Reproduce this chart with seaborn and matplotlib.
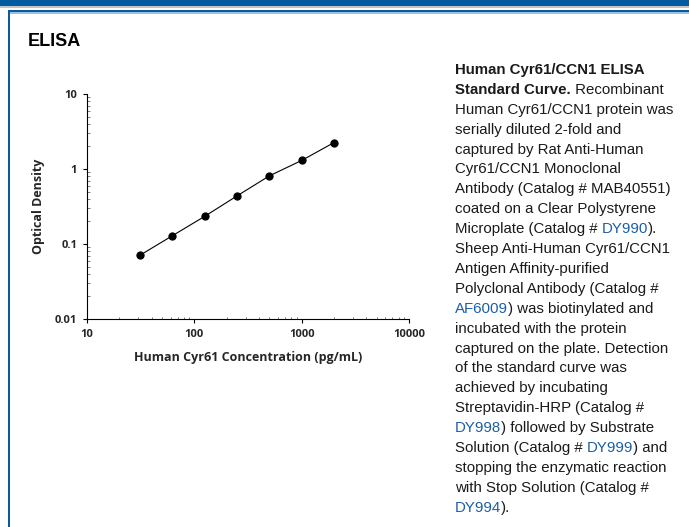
import matplotlib
matplotlib.use("Agg")
import matplotlib.pyplot as plt
from matplotlib.patches import Rectangle
from matplotlib.ticker import LogLocator, NullFormatter, FixedFormatter, FixedLocator
import seaborn as sns
import pandas as pd

# ---- data ----
concentration = [31.25, 62.5, 125, 250, 500, 1000, 2000]
optical_density = [0.071, 0.129, 0.234, 0.438, 0.81, 1.30, 2.25]
x_ticks = [10, 100, 1000, 10000]
x_tick_labels = ["10", "100", "1000", "10000"]
y_ticks = [0.01, 0.1, 1, 10]
y_tick_labels = ["0.01", "0.1", "1", "10"]

title = "ELISA"
x_label = "Human Cyr61 Concentration (pg/mL)"
y_label = "Optical Density"

BLACK = "#1a1a1a"
LINK = "#1c5fa6"
caption_lines = [
    [("Human Cyr61/CCN1 ELISA", "bold", BLACK)],
    [("Standard Curve.", "bold", BLACK), (" Recombinant", "normal", BLACK)],
    [("Human Cyr61/CCN1 protein was", "normal", BLACK)],
    [("serially diluted 2-fold and", "normal", BLACK)],
    [("captured by Rat Anti-Human", "normal", BLACK)],
    [("Cyr61/CCN1 Monoclonal", "normal", BLACK)],
    [("Antibody (Catalog # MAB40551)", "normal", BLACK)],
    [("coated on a Clear Polystyrene", "normal", BLACK)],
    [("Microplate (Catalog # ", "normal", BLACK), ("DY990", "normal", LINK), (").", "normal", BLACK)],
    [("Sheep Anti-Human Cyr61/CCN1", "normal", BLACK)],
    [("Antigen Affinity-purified", "normal", BLACK)],
    [("Polyclonal Antibody (Catalog #", "normal", BLACK)],
    [("AF6009", "normal", LINK), (") was biotinylated and", "normal", BLACK)],
    [("incubated with the protein", "normal", BLACK)],
    [("captured on the plate. Detection", "normal", BLACK)],
    [("of the standard curve was", "normal", BLACK)],
    [("achieved by incubating", "normal", BLACK)],
    [("Streptavidin-HRP (Catalog #", "normal", BLACK)],
    [("DY998", "normal", LINK), (") followed by Substrate", "normal", BLACK)],
    [("Solution (Catalog # ", "normal", BLACK), ("DY999", "normal", LINK), (") and", "normal", BLACK)],
    [("stopping the enzymatic reaction", "normal", BLACK)],
    [("with Stop Solution (Catalog #", "normal", BLACK)],
    [("DY994", "normal", LINK), (").", "normal", BLACK)],
]

# ---- figure ----
sns.set_style("ticks")
plt.rcParams["font.family"] = ["Open Sans", "DejaVu Sans"]

W, H = 689, 527
fig = plt.figure(figsize=(W / 100, H / 100), dpi=100)
fig.patch.set_facecolor("white")

def px(x, y):
    return x / W, 1 - y / H

# frame decorations
FRAME = "#0a5a9e"
fig.add_artist(Rectangle((0, 1 - 6.3 / H), 1, 6.3 / H, transform=fig.transFigure, color="#035c9f", lw=0))
fig.add_artist(Rectangle((0, 1 - 8.3 / H), 1, 2 / H, transform=fig.transFigure, color="#c4c4c4", lw=0))
fig.add_artist(Rectangle((8 / W, 1 - 12.3 / H), 1, 2.3 / H, transform=fig.transFigure, color=FRAME, lw=0))
fig.add_artist(Rectangle((8 / W, 1 - 13.5 / H), 1, 1.2 / H, transform=fig.transFigure, color="#9cc0e0", lw=0))
fig.add_artist(Rectangle((8 / W, 0), 2 / W, 1 - 10 / H, transform=fig.transFigure, color=FRAME, lw=0))

fig.text(*px(28, 42), title, fontsize=13, fontweight="bold", family=["Liberation Sans"],
         color="black", va="center", ha="left")

# ---- axes ----
ax_l, ax_r, ax_t, ax_b = 87, 409, 94, 319
ax = fig.add_axes([ax_l / W, 1 - ax_b / H, (ax_r - ax_l) / W, (ax_b - ax_t) / H])
df = pd.DataFrame({"conc": concentration, "od": optical_density})
sns.lineplot(data=df, x="conc", y="od", ax=ax, color="black", lw=0.8,
             marker="o", markersize=5.2, markeredgecolor="black", markerfacecolor="black")
ax.set_xscale("log")
ax.set_yscale("log")
ax.set_xlim(10, 10000)
ax.set_ylim(0.01, 10)
ax.xaxis.set_major_locator(FixedLocator(x_ticks))
ax.xaxis.set_major_formatter(FixedFormatter(x_tick_labels))
ax.yaxis.set_major_locator(FixedLocator(y_ticks))
ax.yaxis.set_major_formatter(FixedFormatter(y_tick_labels))
ax.xaxis.set_minor_locator(LogLocator(base=10, subs=range(2, 10)))
ax.yaxis.set_minor_locator(LogLocator(base=10, subs=range(2, 10)))
ax.xaxis.set_minor_formatter(NullFormatter())
ax.yaxis.set_minor_formatter(NullFormatter())
for s in ["top", "right"]:
    ax.spines[s].set_visible(False)
for s in ["left", "bottom"]:
    ax.spines[s].set_linewidth(0.8)
    ax.spines[s].set_color("black")
ax.tick_params(which="major", direction="out", length=3, width=0.8, color="black", pad=4)
ax.tick_params(which="minor", direction="in", length=1.8, width=0.6, color="#666666")
for lab in ax.get_xticklabels() + ax.get_yticklabels():
    lab.set_fontsize(8)
    lab.set_fontweight("bold")
ax.set_xlabel(x_label, fontsize=9, fontweight="bold", labelpad=8)
ax.set_ylabel(y_label, fontsize=9, fontweight="bold", labelpad=7)
ax.patch.set_alpha(0)

# ---- caption ----
renderer = fig.canvas.get_renderer()
x0 = 455
y0 = 70
dy = 19.9
for i, line in enumerate(caption_lines):
    xcur = x0
    for txt, weight, col in line:
        t = fig.text(*px(xcur, y0 + i * dy), txt, fontsize=10.8, fontweight=weight, color=col,
                     family=["Liberation Sans"], va="center", ha="left")
        bb = t.get_window_extent(renderer=renderer)
        xcur += bb.width

fig.savefig("out.png", dpi=100)
